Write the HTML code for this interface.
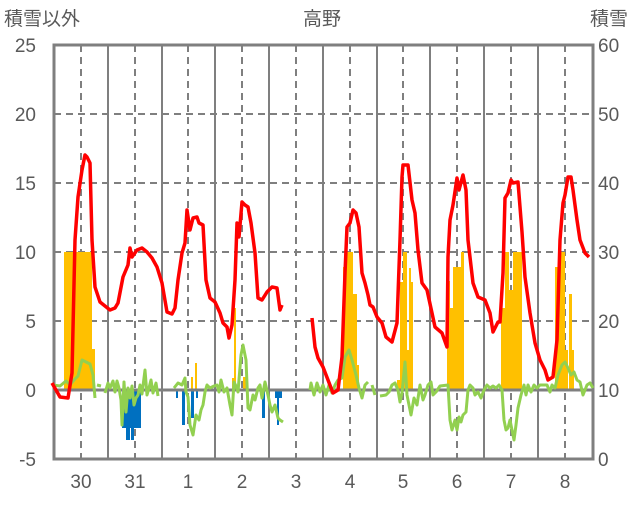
<!DOCTYPE html>
<html><head><meta charset="utf-8"><style>
body{margin:0;background:#fff}
svg text{font-family:"Liberation Sans","Noto Sans CJK JP",sans-serif;fill:#595959;font-size:19px}
</style></head><body>
<svg width="636" height="501" viewBox="0 0 636 501" xmlns="http://www.w3.org/2000/svg">
<rect width="636" height="501" fill="#fff"/>
<g stroke="#7f7f7f" stroke-width="2" stroke-dasharray="7,5">
<line x1="54" y1="114" x2="593" y2="114"/><line x1="54" y1="183" x2="593" y2="183"/>
<line x1="54" y1="252" x2="593" y2="252"/><line x1="54" y1="321" x2="593" y2="321"/>
<line x1="81" y1="45" x2="81" y2="459"/><line x1="135" y1="45" x2="135" y2="459"/>
<line x1="188" y1="45" x2="188" y2="459"/><line x1="242" y1="45" x2="242" y2="459"/>
<line x1="296" y1="45" x2="296" y2="459"/><line x1="350" y1="45" x2="350" y2="459"/>
<line x1="403" y1="45" x2="403" y2="459"/><line x1="457" y1="45" x2="457" y2="459"/>
<line x1="511" y1="45" x2="511" y2="459"/><line x1="565" y1="45" x2="565" y2="459"/>
</g>
<g stroke="#7f7f7f" stroke-width="2">
<line x1="108" y1="45" x2="108" y2="459"/><line x1="162" y1="45" x2="162" y2="459"/>
<line x1="215" y1="45" x2="215" y2="459"/><line x1="269" y1="45" x2="269" y2="459"/>
<line x1="323" y1="45" x2="323" y2="459"/><line x1="377" y1="45" x2="377" y2="459"/>
<line x1="430" y1="45" x2="430" y2="459"/><line x1="484" y1="45" x2="484" y2="459"/>
<line x1="538" y1="45" x2="538" y2="459"/>
</g>
<g fill="#ffc000">
<rect x="64" y="252" width="28" height="138"/><rect x="92" y="349" width="3" height="41"/>
<rect x="191" y="377" width="2" height="13"/><rect x="195" y="363" width="2" height="27"/>
<rect x="232" y="378" width="2" height="12"/><rect x="234" y="308" width="2" height="82"/><rect x="243" y="377" width="4" height="13"/>
<rect x="343" y="267" width="2" height="123"/><rect x="345" y="252" width="8" height="138"/><rect x="353" y="294" width="4" height="96"/><rect x="357" y="365" width="2" height="25"/>
<rect x="397" y="380" width="3" height="10"/><rect x="400" y="282" width="3" height="108"/><rect x="403" y="252" width="4" height="138"/><rect x="407" y="350" width="2" height="40"/><rect x="409" y="268" width="2" height="122"/><rect x="411" y="282" width="2" height="108"/>
<rect x="447" y="281" width="3" height="109"/><rect x="450" y="308" width="3" height="82"/><rect x="453" y="267" width="8" height="123"/><rect x="461" y="252" width="3" height="138"/>
<rect x="501" y="308" width="4" height="82"/><rect x="505" y="252" width="4" height="138"/><rect x="509" y="290" width="4" height="100"/><rect x="513" y="252" width="9" height="138"/>
<rect x="555" y="267" width="6" height="123"/><rect x="561" y="252" width="4" height="138"/><rect x="565" y="350" width="3" height="40"/><rect x="569" y="294" width="3" height="96"/><rect x="572" y="350" width="2" height="40"/>
</g>
<g fill="#0070c0">
<rect x="122" y="390" width="19" height="38"/><rect x="126" y="390" width="4" height="50"/><rect x="131" y="390" width="3" height="50"/>
<rect x="176" y="390" width="2" height="8"/><rect x="182" y="390" width="3" height="35"/><rect x="191" y="390" width="3" height="28"/><rect x="196" y="390" width="2" height="8"/>
<rect x="262" y="390" width="3" height="28"/><rect x="275" y="390" width="7" height="8"/><rect x="277" y="390" width="2" height="35"/>
</g>
<rect x="54" y="45" width="539" height="414" fill="none" stroke="#7f7f7f" stroke-width="3"/>
<line x1="54" y1="390" x2="593" y2="390" stroke="#7f7f7f" stroke-width="3"/>
<g fill="none" stroke="#92d050" stroke-width="3" stroke-linejoin="round">
<polyline points="53,385 60,386 66,381 70,385 74,380 78,376 82,360 86,362 90,364 93,375 95,398"/>
<polyline points="97,385 101,386"/>
<polyline points="105,393 108,383 110,388 113,381 115,392 117,381 119,388 121,400 122,425 124,382 126,412 128,388 130,398 132,386 134,405 136,398 138,395 140,385 142,394 145,370 147,395 149,388 151,380 153,393 156,383 158,396"/>
<polyline points="174,388 178,383 182,385 185,378 186,392 188,397 190,425 193,435 196,415 199,420 201,410 203,405 205,392 207,385 210,388 214,386 217,385 219,392 221,380 224,392 227,388 230,405 232,415 234,382 236,386 238,392 241,355 243,345 246,360 248,408 250,410 253,395 255,400 258,388 260,385 262,398 265,382 268,395 270,405 272,412 275,405 278,418 280,420 283,422"/>
<polyline points="310,390 311,383 314,395 317,383 320,392 323,385 326,395 329,385 332,393 335,385 338,380 342,378 345,357 349,350 352,360 356,375 359,388 362,398 365,385 368,382"/>
<polyline points="372,385 375,395"/>
<polyline points="380,396 386,395 389,392 392,385 395,383 398,390 400,402 402,393 405,362 407,395 409,405 411,415 414,398 417,405 420,385 423,400 425,395 428,385 431,382 433,395 436,392 440,386 448,385 450,420 452,430 455,420 457,430 459,417 461,422 463,415 466,412 468,390 470,385 473,388 475,395 478,392 481,398 484,390 487,385 490,388 493,386 496,388 499,385 502,390 504,420 506,430 508,428 510,420 512,430 514,440 516,425 518,408 521,395 524,385 526,395 528,385 531,392 534,385 537,388 540,385 543,385 547,385 550,392 552,385 555,388 558,375 562,365 565,362 568,368 571,375 574,372 577,380 580,382 583,395 587,385 590,383 593,388"/>
</g>
<g fill="none" stroke="#ff0000" stroke-width="3.5" stroke-linejoin="round">
<polyline points="52,383 60,397 68,398 72,373 75,240 78,197 82,170 85,155 87,157 90,163 92,240 95,287 100,302 105,306 110,310 115,308 118,303 123,277 128,265 130,248 132,257 137,250 142,248 147,252 152,258 157,267 162,283 167,312 172,314 175,308 178,280 182,253 185,243 187,210 190,230 193,218 197,217 199,223 203,225 206,280 210,298 215,302 220,313 223,323 227,327 229,338 232,325 235,280 237,223 239,237 242,202 245,205 248,207 251,223 255,253 258,298 262,300 267,292 272,287 277,288 280,310 282,305"/>
<polyline points="312,318 315,347 318,358 323,367 328,380 333,393 338,390 342,357 345,273 347,227 350,223 353,210 356,213 359,227 362,273 365,283 368,295 370,305 373,307 377,317 382,323 386,337 392,342 397,323 400,240 402,177 403,165 408,165 412,200 415,213 418,250 422,283 427,290 432,313 435,327 442,333 447,347 448,257 450,220 453,205 457,178 459,190 463,175 466,190 468,240 473,283 478,297 485,300 490,313 493,332 498,322 500,322 503,273 505,198 508,193 511,180 513,183 518,182 522,232 525,277 530,313 535,343 540,360 545,370 548,380 553,377 557,340 560,240 563,203 565,195 568,177 571,177 573,190 577,220 580,240 585,253 589,257"/>
</g>
<g text-anchor="end">
<text x="36" y="52">25</text><text x="36" y="121">20</text><text x="36" y="190">15</text>
<text x="36" y="259">10</text><text x="36" y="328">5</text><text x="36" y="397">0</text><text x="36" y="466">-5</text>
</g>
<g>
<text x="598" y="52">60</text><text x="598" y="121">50</text><text x="598" y="190">40</text>
<text x="598" y="259">30</text><text x="598" y="328">20</text><text x="598" y="397">10</text><text x="598" y="466">0</text>
</g>
<g text-anchor="middle">
<text x="81" y="488">30</text><text x="135" y="488">31</text><text x="188" y="488">1</text>
<text x="242" y="488">2</text><text x="296" y="488">3</text><text x="350" y="488">4</text>
<text x="403" y="488">5</text><text x="457" y="488">6</text><text x="511" y="488">7</text><text x="565" y="488">8</text>
<text x="322" y="25">高野</text>
</g>
<text x="4" y="25">積雪以外</text>
<text x="590" y="25">積雪</text>
</svg>
</body></html>
